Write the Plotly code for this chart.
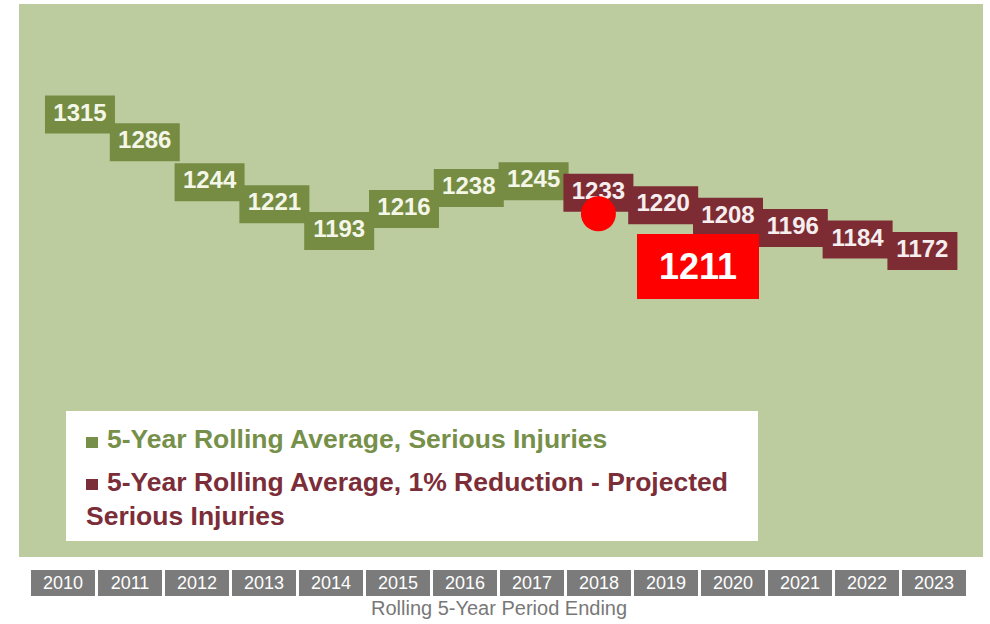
import plotly.graph_objects as go

# ---- data ----
years = [2010, 2011, 2012, 2013, 2014, 2015, 2016, 2017, 2018, 2019, 2020, 2021, 2022, 2023]
actual_years = [2010, 2011, 2012, 2013, 2014, 2015, 2016, 2017]
actual_values = [1315, 1286, 1244, 1221, 1193, 1216, 1238, 1245]
proj_years = [2018, 2019, 2020, 2021, 2022, 2023]
proj_values = [1233, 1220, 1208, 1196, 1184, 1172]
highlight_year = [2018]
highlight_value = [1211]
year_labels = [str(y) for y in years]
series_names = ["5-Year Rolling Average, Serious Injuries",
                "5-Year Rolling Average, 1% Reduction - Projected",
                "Serious Injuries"]
x_title = "Rolling 5-Year Period Ending"

# ---- style ----
W, H = 990, 624
ML, MR, MT, MB = 19, 7, 4, 67
PW, PH = W - ML - MR, H - MT - MB
BG = "#BDCC9F"
GREEN = "#768C43"
MAROON = "#7E2C34"
GREEN_TXT = "#76904A"
MAROON_TXT = "#7B2D38"
GREY = "#7B7B7B"
FONT = "Liberation Sans, Arial, sans-serif"


def px(xp):
    return (xp - ML) / PW


def py(yp):
    return (H - MB - yp) / PH


fig = go.Figure()

shapes = []
for xs, ys, col in [(actual_years, actual_values, GREEN), (proj_years, proj_values, MAROON)]:
    for xv, yv in zip(xs, ys):
        shapes.append(dict(type="rect", xref="x", yref="y", xsizemode="pixel", ysizemode="pixel",
                           xanchor=xv, yanchor=yv, x0=-35, x1=35, y0=-19, y1=19,
                           fillcolor=col, line=dict(width=0), layer="below"))

fig.add_trace(go.Scatter(x=actual_years, y=actual_values, mode="text",
                         text=[str(v) for v in actual_values],
                         textfont=dict(family=FONT, size=24, color="#F4F6E8", weight="bold"),
                         hoverinfo="skip", showlegend=False))
fig.add_trace(go.Scatter(x=proj_years, y=proj_values, mode="text",
                         text=[str(v) for v in proj_values],
                         textfont=dict(family=FONT, size=24, color="#F6EEEE", weight="bold"),
                         hoverinfo="skip", showlegend=False))
fig.add_trace(go.Scatter(x=highlight_year, y=highlight_value, mode="markers",
                         marker=dict(size=35, color="#FF0000", line=dict(width=0)),
                         hoverinfo="skip", showlegend=False))
# invisible trace carrying the year-header axis
fig.add_trace(go.Scatter(x=years, y=actual_values + proj_values, xaxis="x2", mode="markers",
                         marker=dict(opacity=0), hoverinfo="skip", showlegend=False))

annotations = []
for y, lab in zip(years, year_labels):
    annotations.append(dict(xref="x2", yref="paper", x=y, y=py(583), xanchor="center", yanchor="middle",
                            text=lab, showarrow=False,
                            width=64, height=26, bgcolor=GREY, borderpad=0, borderwidth=0,
                            font=dict(family=FONT, size=18, color="white")))
annotations.append(dict(xref="paper", yref="paper", x=px(498.5), y=py(608), xanchor="center", yanchor="middle",
                        text=x_title, showarrow=False,
                        font=dict(family=FONT, size=20, color="#787878")))
# callout
annotations.append(dict(xref="paper", yref="paper", x=px(698), y=py(266.5), xanchor="center", yanchor="middle",
                        text="<b>" + str(highlight_value[0]) + "</b>",
                        showarrow=False, width=122, height=65, bgcolor="#FF0000", borderpad=0, borderwidth=0,
                        font=dict(family=FONT, size=36, color="white")))
# legend texts
annotations.append(dict(xref="paper", yref="paper", x=px(105), y=py(438.5), xanchor="left", yanchor="middle",
                        text="<b>" + series_names[0] + "</b>", showarrow=False,
                        font=dict(family=FONT, size=26.5, color=GREEN_TXT)))
annotations.append(dict(xref="paper", yref="paper", x=px(105), y=py(481.5), xanchor="left", yanchor="middle",
                        text="<b>" + series_names[1] + "</b>", showarrow=False,
                        font=dict(family=FONT, size=26.5, color=MAROON_TXT)))
annotations.append(dict(xref="paper", yref="paper", x=px(84), y=py(515.5), xanchor="left", yanchor="middle",
                        text="<b>" + series_names[2] + "</b>", showarrow=False,
                        font=dict(family=FONT, size=26.5, color=MAROON_TXT)))

# legend box and squares
shapes.append(dict(type="rect", xref="paper", yref="paper", x0=px(66), x1=px(758), y0=py(541), y1=py(411),
                   fillcolor="white", line=dict(width=0), layer="below"))
shapes.append(dict(type="rect", xref="paper", yref="paper", x0=px(86), x1=px(98), y0=py(448), y1=py(437),
                   fillcolor=GREEN_TXT, line=dict(width=0)))
shapes.append(dict(type="rect", xref="paper", yref="paper", x0=px(86), x1=px(98), y0=py(490), y1=py(479),
                   fillcolor=MAROON_TXT, line=dict(width=0)))

fig.update_layout(
    width=W, height=H, autosize=False,
    margin=dict(l=ML, r=MR, t=MT, b=MB),
    paper_bgcolor="white", plot_bgcolor=BG,
    showlegend=False,
    xaxis=dict(range=[2010 - 0.941, 2010 + 13.935], showgrid=False, zeroline=False,
               showticklabels=False, ticks="", showline=False),
    xaxis2=dict(range=[2010 - 0.6486, 2010 + 13.724], overlaying="x", visible=False),
    yaxis=dict(range=[851.4, 1430.8], showgrid=False, zeroline=False,
               showticklabels=False, ticks="", showline=False),
    shapes=shapes,
    annotations=annotations,
)

fig.write_html("out.html", config={"displayModeBar": False},
               post_script="document.body.style.margin='0px';")
